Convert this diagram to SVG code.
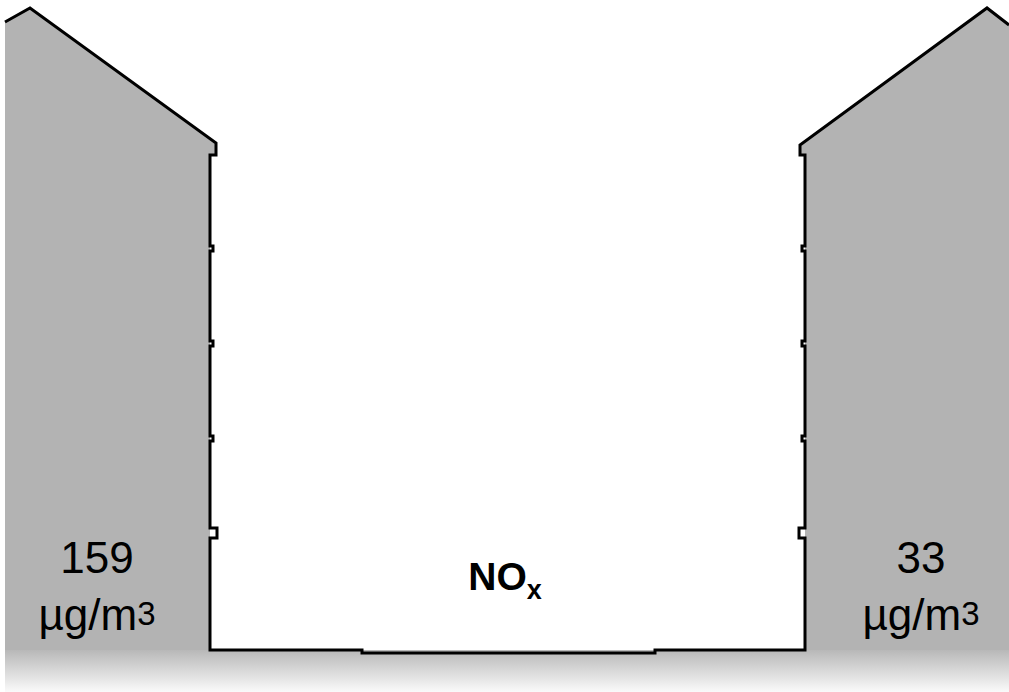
<svg xmlns="http://www.w3.org/2000/svg" width="1009" height="692" viewBox="0 0 1009 692">
<defs>
<linearGradient id="ground" x1="0" y1="0" x2="0" y2="1">
<stop offset="0" stop-color="#b8b8b8"/>
<stop offset="1" stop-color="#fafafa"/>
</linearGradient>
<style>
.bld{fill:#b3b3b3;stroke:none}
.edge{fill:none;stroke:#000;stroke-width:3;stroke-linejoin:miter}
.lbl{font-family:"Liberation Sans",Arial,sans-serif;fill:#000;text-anchor:middle}
</style>
</defs>
<rect width="1009" height="692" fill="#fff"/>
<rect id="ground-area" x="5" y="650" width="1004" height="42" fill="url(#ground)"/>
<g id="left-building">
<polygon class="bld" points="5,22 30,8 216,143 216,155 210,155 210,650 5,650"/>
<text class="lbl" x="97" y="573" font-size="44">159</text>
<text class="lbl" x="97" y="630" font-size="44">µg/m<tspan font-size="33" dy="-5">3</tspan></text>
</g>
<g id="right-building">
<polygon class="bld" points="805,650 805,155 800,155 800,145 987,8 1009,25 1009,650"/>
<text class="lbl" x="921" y="573" font-size="44">33</text>
<text class="lbl" x="921" y="630" font-size="44">µg/m<tspan font-size="33" dy="-5">3</tspan></text>
</g>
<g id="street">
<text class="lbl" x="505" y="590" font-size="39" font-weight="bold">NO<tspan font-size="27" dy="9">x</tspan></text>
</g>
<g id="connectors">
<path class="edge" d="M5,22 L30,8 L216,143 L216,155 L210,155 L210,246 L213,246 L213,251 L210,251 L210,341 L213,341 L213,346 L210,346 L210,436 L213,436 L213,441 L210,441 L210,528 L217,528 L217,538 L210,538 L210,650 L362,650 L362,653 L655,653 L655,650 L805,650 L805,538 L799,538 L799,528 L805,528 L805,441 L802,441 L802,436 L805,436 L805,346 L802,346 L802,341 L805,341 L805,251 L802,251 L802,246 L805,246 L805,155 L800,155 L800,145 L987,8 L1009,25"/>
</g>
</svg>
